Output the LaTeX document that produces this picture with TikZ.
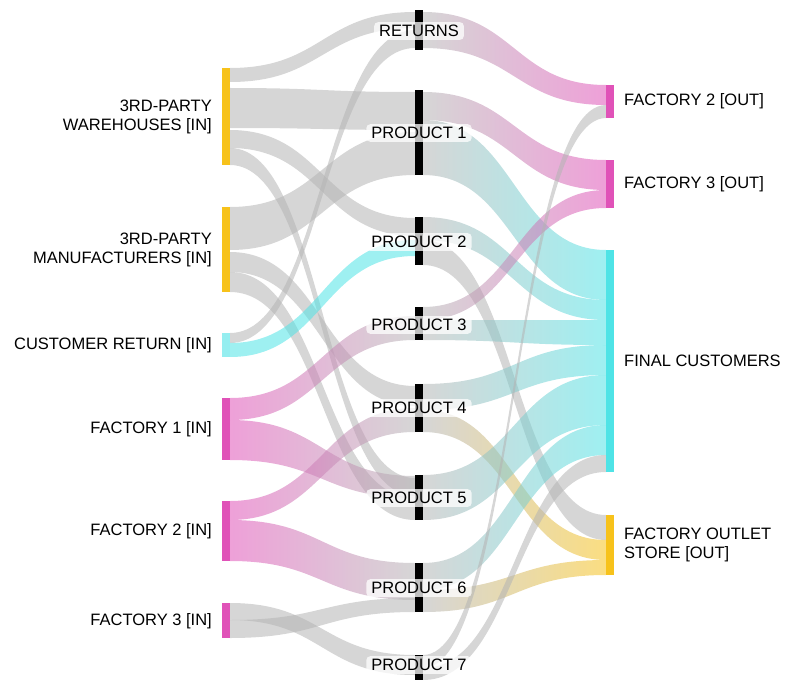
\documentclass[tikz,border=0pt]{standalone}
\usepackage{fontspec}
\setmainfont{Liberation Sans}
\usepackage{xcolor}
\usetikzlibrary{positioning}
\definecolor{pinkc}{HTML}{E052B8}
\definecolor{cyanc}{HTML}{4FE3E6}
\definecolor{yellc}{HTML}{F7C21B}
\definecolor{greyc}{HTML}{B4B4B4}
% band from (x1,t1-b1) to (x2,t2-b2)
\newcommand{\band}[8]{%
  \shade[left color=#7, right color=#8, fill opacity=.55]
    (#1,#2) .. controls ({(#1+#4)/2},#2) and ({(#1+#4)/2},#5) .. (#4,#5)
    -- (#4,#6) .. controls ({(#1+#4)/2},#6) and ({(#1+#4)/2},#3) .. (#1,#3) -- cycle;}
\tikzset{lbl/.style={font=\fontsize{16.5}{19}\selectfont, inner sep=2pt},
  mid/.style={lbl, fill=white, fill opacity=.75, text opacity=1, rounded corners=4pt, inner xsep=5pt, inner ysep=3pt}}
\begin{document}
\begin{tikzpicture}[x=1pt, y=-1pt]
  \useasboundingbox (0,0) rectangle (800,690);
  % left to middle
  \band{230}{68}{82}{415}{12}{28}{greyc}{greyc}
  \band{230}{88}{128}{415}{92}{130}{greyc}{greyc}
  \band{230}{130}{148}{415}{218}{236}{greyc}{greyc}
  \band{230}{148}{165}{415}{478}{496}{greyc}{greyc}
  \band{230}{207}{250}{415}{132}{175}{greyc}{greyc}
  \band{230}{252}{272}{415}{386}{406}{greyc}{greyc}
  \band{230}{272}{292}{415}{498}{520}{greyc}{greyc}
  \band{230}{333}{343}{415}{30}{48}{greyc}{greyc}
  \band{230}{343}{357}{415}{240}{256}{cyanc}{cyanc}
  \band{230}{398}{420}{415}{316}{340}{pinkc}{greyc}
  \band{230}{420}{460}{415}{476}{498}{pinkc}{greyc}
  \band{230}{501}{520}{415}{408}{432}{pinkc}{greyc}
  \band{230}{520}{561}{415}{563}{600}{pinkc}{greyc}
  \band{230}{603}{620}{415}{655}{675}{greyc}{greyc}
  \band{230}{620}{638}{415}{598}{612}{greyc}{greyc}
  % middle to right
  \band{423}{12}{48}{606}{85}{105}{greyc}{pinkc}
  \band{423}{92}{120}{606}{160}{190}{greyc}{pinkc}
  \band{423}{120}{175}{606}{250}{300}{greyc}{cyanc}
  \band{423}{217}{240}{606}{300}{320}{greyc}{cyanc}
  \band{423}{240}{265}{606}{515}{540}{greyc}{greyc}
  \band{423}{307}{320}{606}{190}{208}{greyc}{pinkc}
  \band{423}{320}{340}{606}{320}{345}{greyc}{cyanc}
  \band{423}{384}{410}{606}{345}{375}{greyc}{cyanc}
  \band{423}{410}{432}{606}{540}{560}{greyc}{yellc}
  \band{423}{475}{520}{606}{375}{425}{greyc}{cyanc}
  \band{423}{563}{590}{606}{425}{455}{greyc}{cyanc}
  \band{423}{590}{612}{606}{560}{575}{greyc}{yellc}
  \band{423}{655}{668}{606}{105}{118}{greyc}{greyc}
  \band{423}{668}{680}{606}{455}{472}{greyc}{greyc}
  % bars
  \fill[yellc] (222,68) rectangle (230,165);
  \fill[yellc] (222,207) rectangle (230,292);
  \fill[cyanc!60] (222,333) rectangle (230,357);
  \fill[pinkc] (222,398) rectangle (230,460);
  \fill[pinkc] (222,501) rectangle (230,561);
  \fill[pinkc] (222,603) rectangle (230,638);
  \foreach \t/\b in {10/50, 90/175, 217/265, 307/340, 384/432, 475/520, 563/612, 655/680}
    \fill[black] (415,\t) rectangle (423,\b);
  \fill[pinkc] (606,85) rectangle (614,118);
  \fill[pinkc] (606,160) rectangle (614,208);
  \fill[cyanc] (606,250) rectangle (614,472);
  \fill[yellc] (606,515) rectangle (614,575);
  % labels
  \node[lbl, align=right, anchor=east] (whin) at (214,117) {3RD-PARTY\\WAREHOUSES [IN]};
  \node[lbl, align=right, anchor=east] (mfin) at (214,250) {3RD-PARTY\\MANUFACTURERS [IN]};
  \node[lbl, anchor=east] (crin) at (214,345) {CUSTOMER RETURN [IN]};
  \node[lbl, anchor=east] (f1in) at (214,429) {FACTORY 1 [IN]};
  \node[lbl, anchor=east] (f2in) at (214,531) {FACTORY 2 [IN]};
  \node[lbl, anchor=east] (f3in) at (214,621) {FACTORY 3 [IN]};
  \node[mid] (ret) at (419,31) {RETURNS};
  \node[mid] (p1) at (419,133) {PRODUCT 1};
  \node[mid] (p2) at (419,242) {PRODUCT 2};
  \node[mid] (p3) at (419,325) {PRODUCT 3};
  \node[mid] (p4) at (419,408) {PRODUCT 4};
  \node[mid] (p5) at (419,498) {PRODUCT 5};
  \node[mid] (p6) at (419,588) {PRODUCT 6};
  \node[mid] (p7) at (419,665) {PRODUCT 7};
  \node[lbl, anchor=west] (f2out) at (622,101) {FACTORY 2 [OUT]};
  \node[lbl, anchor=west] (f3out) at (622,184) {FACTORY 3 [OUT]};
  \node[lbl, anchor=west] (fc) at (622,361) {FINAL CUSTOMERS};
  \node[lbl, align=left, anchor=west] (outlet) at (622,545) {FACTORY OUTLET\\STORE [OUT]};
\end{tikzpicture}
\end{document}
